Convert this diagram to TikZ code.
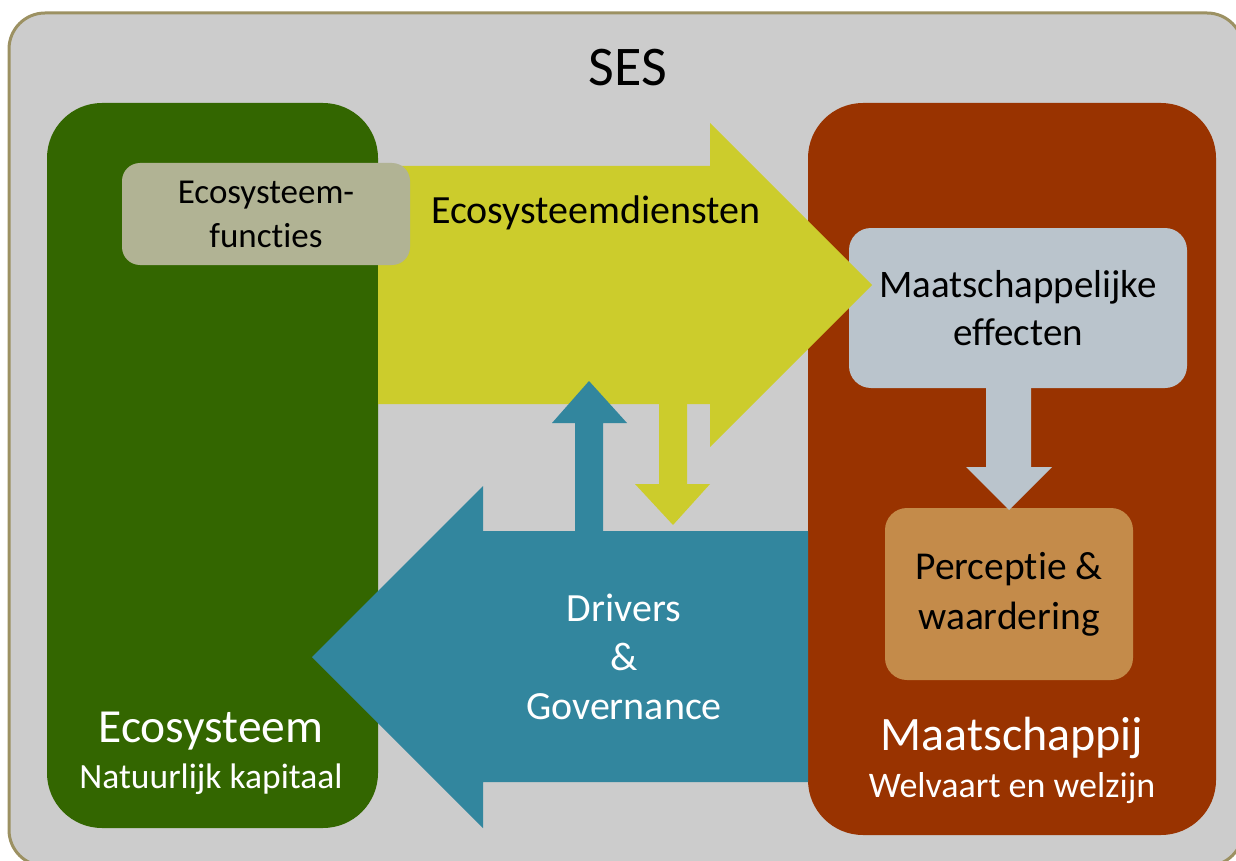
\documentclass[tikz,border=0pt]{standalone}
\usepackage{fontspec}
\setmainfont{Carlito}[Ligatures={NoCommon,NoContextual}]
\usetikzlibrary{positioning}
\definecolor{sesgrey}{HTML}{CCCCCC}
\definecolor{frameolive}{HTML}{9C9162}
\definecolor{ecogreen}{HTML}{336600}
\definecolor{socred}{HTML}{993300}
\definecolor{funcgrey}{HTML}{B1B394}
\definecolor{effgrey}{HTML}{BAC4CC}
\definecolor{perctan}{HTML}{C48B4A}
\definecolor{esyellow}{HTML}{CCCC2C}
\definecolor{drvblue}{HTML}{32869E}
\tikzset{
  block/.style={rectangle, rounded corners=55pt, inner sep=0pt},
  smallblock/.style={rectangle, rounded corners=22pt, inner sep=0pt, align=center, text=black},
  whitelbl/.style={align=center, inner sep=0pt, text=white},
}
\begin{document}
\begin{tikzpicture}[x=1pt,y=-1pt]
\useasboundingbox (0,0) rectangle (1236,861);
\clip (0,0) rectangle (1236,861);

% to draw the SES frame
\draw [line width=3pt, draw=frameolive, fill=sesgrey, rounded corners=36pt] (9,13) rectangle (1243,866);
\node [inner sep=0pt, font=\fontsize{56}{60}\selectfont] (ses) at (628,68) {SES};

% to draw the two main blocks
\node [block, fill=ecogreen, minimum width=331pt, minimum height=725pt] (eco) at (212.5,465.5) {};
\node [block, fill=socred, minimum width=408pt, minimum height=732pt] (soc) at (1012,469) {};
\node [smallblock, fill=effgrey, minimum width=338pt, minimum height=160pt,
       font=\fontsize{39}{48}\selectfont] (effect) at (1018,308) {Maatschappelijke\\effecten};

% to draw the big arrows
\fill [drvblue] (808,531) -- (483,531) -- (483,486) -- (312,657) -- (483,828) -- (483,782) -- (808,782) -- cycle;
\fill [esyellow] (378,166) -- (710,166) -- (710,123) -- (872,285) -- (710,447) -- (710,404) -- (378,404) -- cycle;

% to draw the small arrows
\fill [drvblue] (575,532) -- (575,423) -- (552,423) -- (589,381) -- (627,423) -- (603,423) -- (603,532) -- cycle;
\fill [esyellow] (659,404) -- (659,484) -- (635,484) -- (673,525) -- (710,484) -- (687,484) -- (687,404) -- cycle;

% inner boxes
\node [smallblock, rounded corners=18pt, fill=funcgrey, minimum width=288pt, minimum height=102pt,
       font=\fontsize{35}{44}\selectfont] (func) at (266,214) {Ecosysteem-\\functies};
\node [smallblock, fill=perctan, minimum width=248pt, minimum height=172pt,
       font=\fontsize{39.5}{50}\selectfont] (percep) at (1009,594) {Perceptie \&\\waardering};
\fill [effgrey] (986,388) -- (986,467) -- (966,467) -- (1009,510) -- (1052,467) -- (1031,467) -- (1031,388) -- cycle;

% to write the labels
\node [inner sep=0pt, font=\fontsize{40}{44}\selectfont] (esd) at (596,213) {Ecosysteemdiensten};
\node [whitelbl, font=\fontsize{40}{49}\selectfont] (drv) at (624,657) {Drivers\\\&\\Governance};
\node [whitelbl, font=\fontsize{47.5}{50}\selectfont] (ecolbl) at (211,731) {Ecosysteem};
\node [whitelbl, font=\fontsize{35.5}{40}\selectfont] (ecosub) at (211,779) {Natuurlijk kapitaal};
\node [whitelbl, font=\fontsize{48}{50}\selectfont] (soclbl) at (1012,738) {Maatschappij};
\node [whitelbl, font=\fontsize{36}{40}\selectfont] (socsub) at (1012,788) {Welvaart en welzijn};
\end{tikzpicture}
\end{document}
